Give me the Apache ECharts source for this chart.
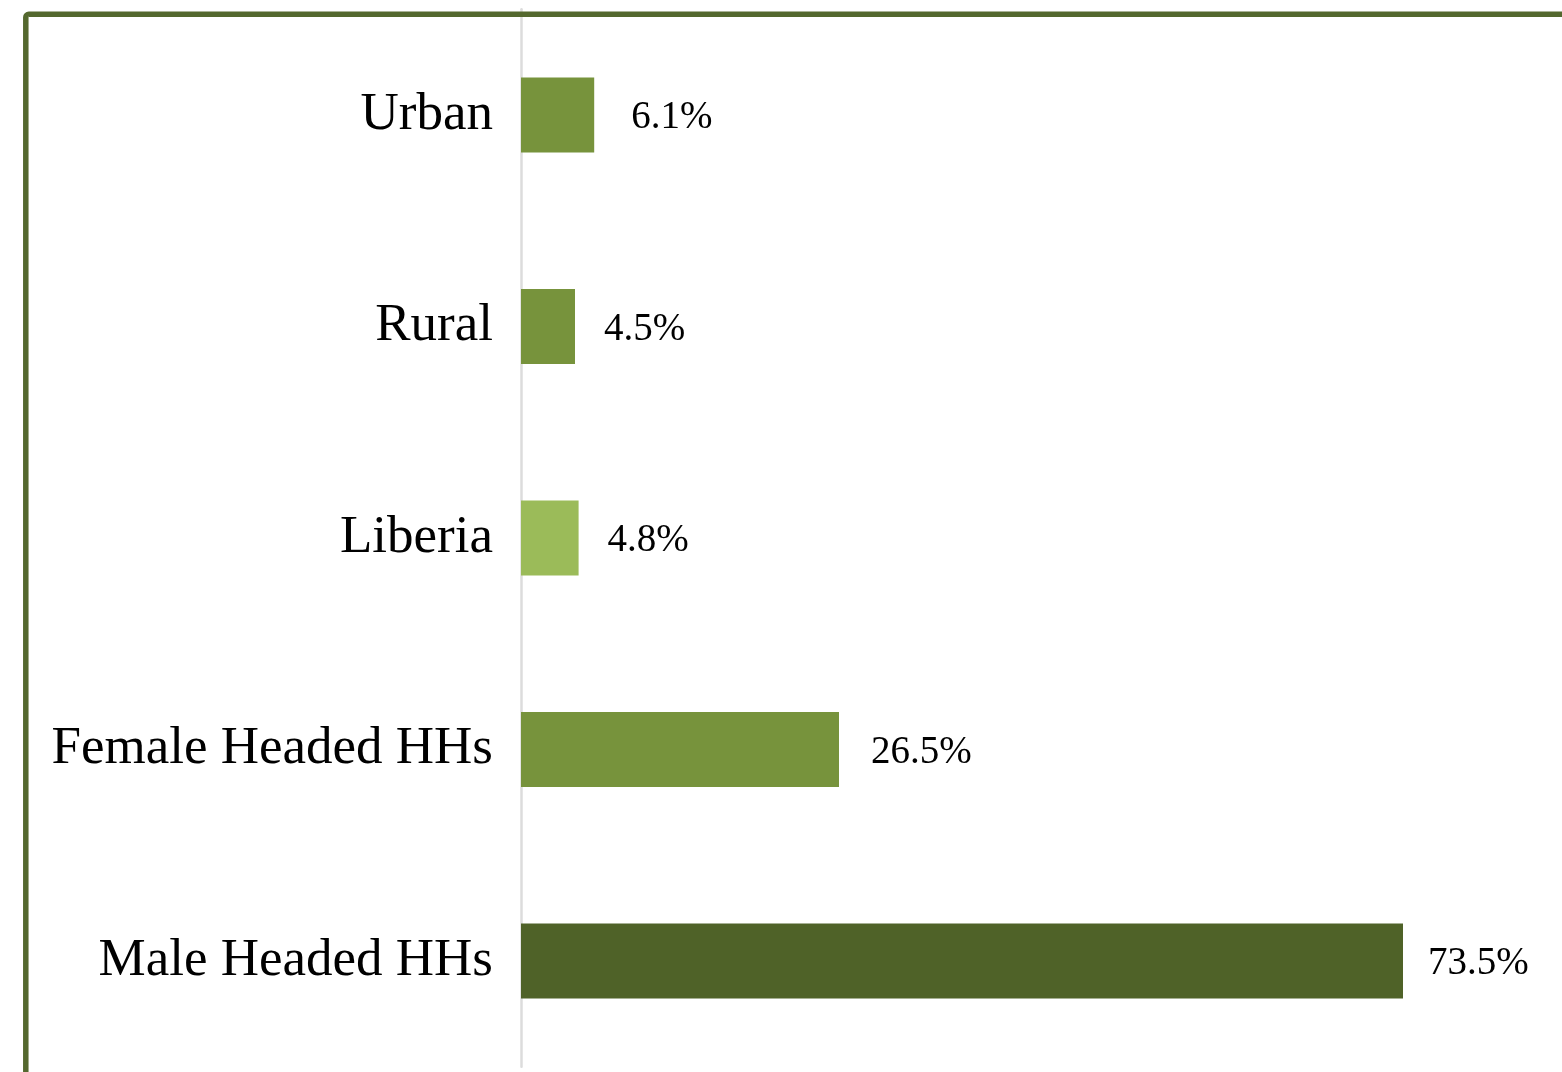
<!DOCTYPE html>
<html>
<head>
<meta charset="utf-8">
<title>Households by group</title>
<script src="https://cdn.jsdelivr.net/npm/echarts@6/dist/echarts.min.js"></script>
<style>
  html, body { margin: 0; padding: 0; background: #ffffff; }
  #chart { width: 1562px; height: 1072px; }
</style>
</head>
<body>
<div id="chart"></div>
<script>
// Share of households per group (%)
const categories = ['Urban', 'Rural', 'Liberia', 'Female Headed HHs', 'Male Headed HHs'];
const shares = [6.1, 4.5, 4.8, 26.5, 73.5];

// Styling per bar: fill colour and the gap between bar end and its value label
const barColors = ['#77933c', '#77933c', '#9bbb59', '#77933c', '#4f6228'];
const labelGaps = [37, 29, 29, 32, 25];

const chart = echarts.init(document.getElementById('chart'), null, { renderer: 'canvas' });

const serif = '"Liberation Serif", "Times New Roman", "DejaVu Serif", serif';

chart.setOption({
  animation: false,
  backgroundColor: '#ffffff',
  grid: { left: 521, top: 9.25, width: 1020, height: 1057.5, containLabel: false },
  xAxis: {
    type: 'value',
    min: 0,
    max: 85,
    axisLine: { show: false },
    axisTick: { show: false },
    axisLabel: { show: false },
    splitLine: { show: false }
  },
  yAxis: {
    type: 'category',
    inverse: true,
    data: categories,
    axisLine: { show: true, lineStyle: { color: '#dcdcdc', width: 2.5 } },
    axisTick: { show: false },
    axisLabel: {
      margin: 28,
      color: '#000000',
      fontFamily: serif,
      fontSize: 53,
      padding: [0, 0, 5, 0]
    }
  },
  series: [{
    type: 'bar',
    barWidth: 75,
    data: shares.map((v, i) => ({
      value: v,
      itemStyle: { color: barColors[i] },
      label: { distance: labelGaps[i] }
    })),
    label: {
      show: true,
      position: 'right',
      color: '#000000',
      fontFamily: serif,
      fontSize: 39,
      offset: [0, 3],
      formatter: p => p.value.toFixed(1) + '%'
    }
  }],
  graphic: [{
    type: 'rect',
    z: 100,
    silent: true,
    shape: { x: 25.8, y: 14.2, width: 2000, height: 2000, r: 3 },
    style: { fill: 'none', stroke: '#54682e', lineWidth: 5.5 }
  }]
});
</script>
</body>
</html>
